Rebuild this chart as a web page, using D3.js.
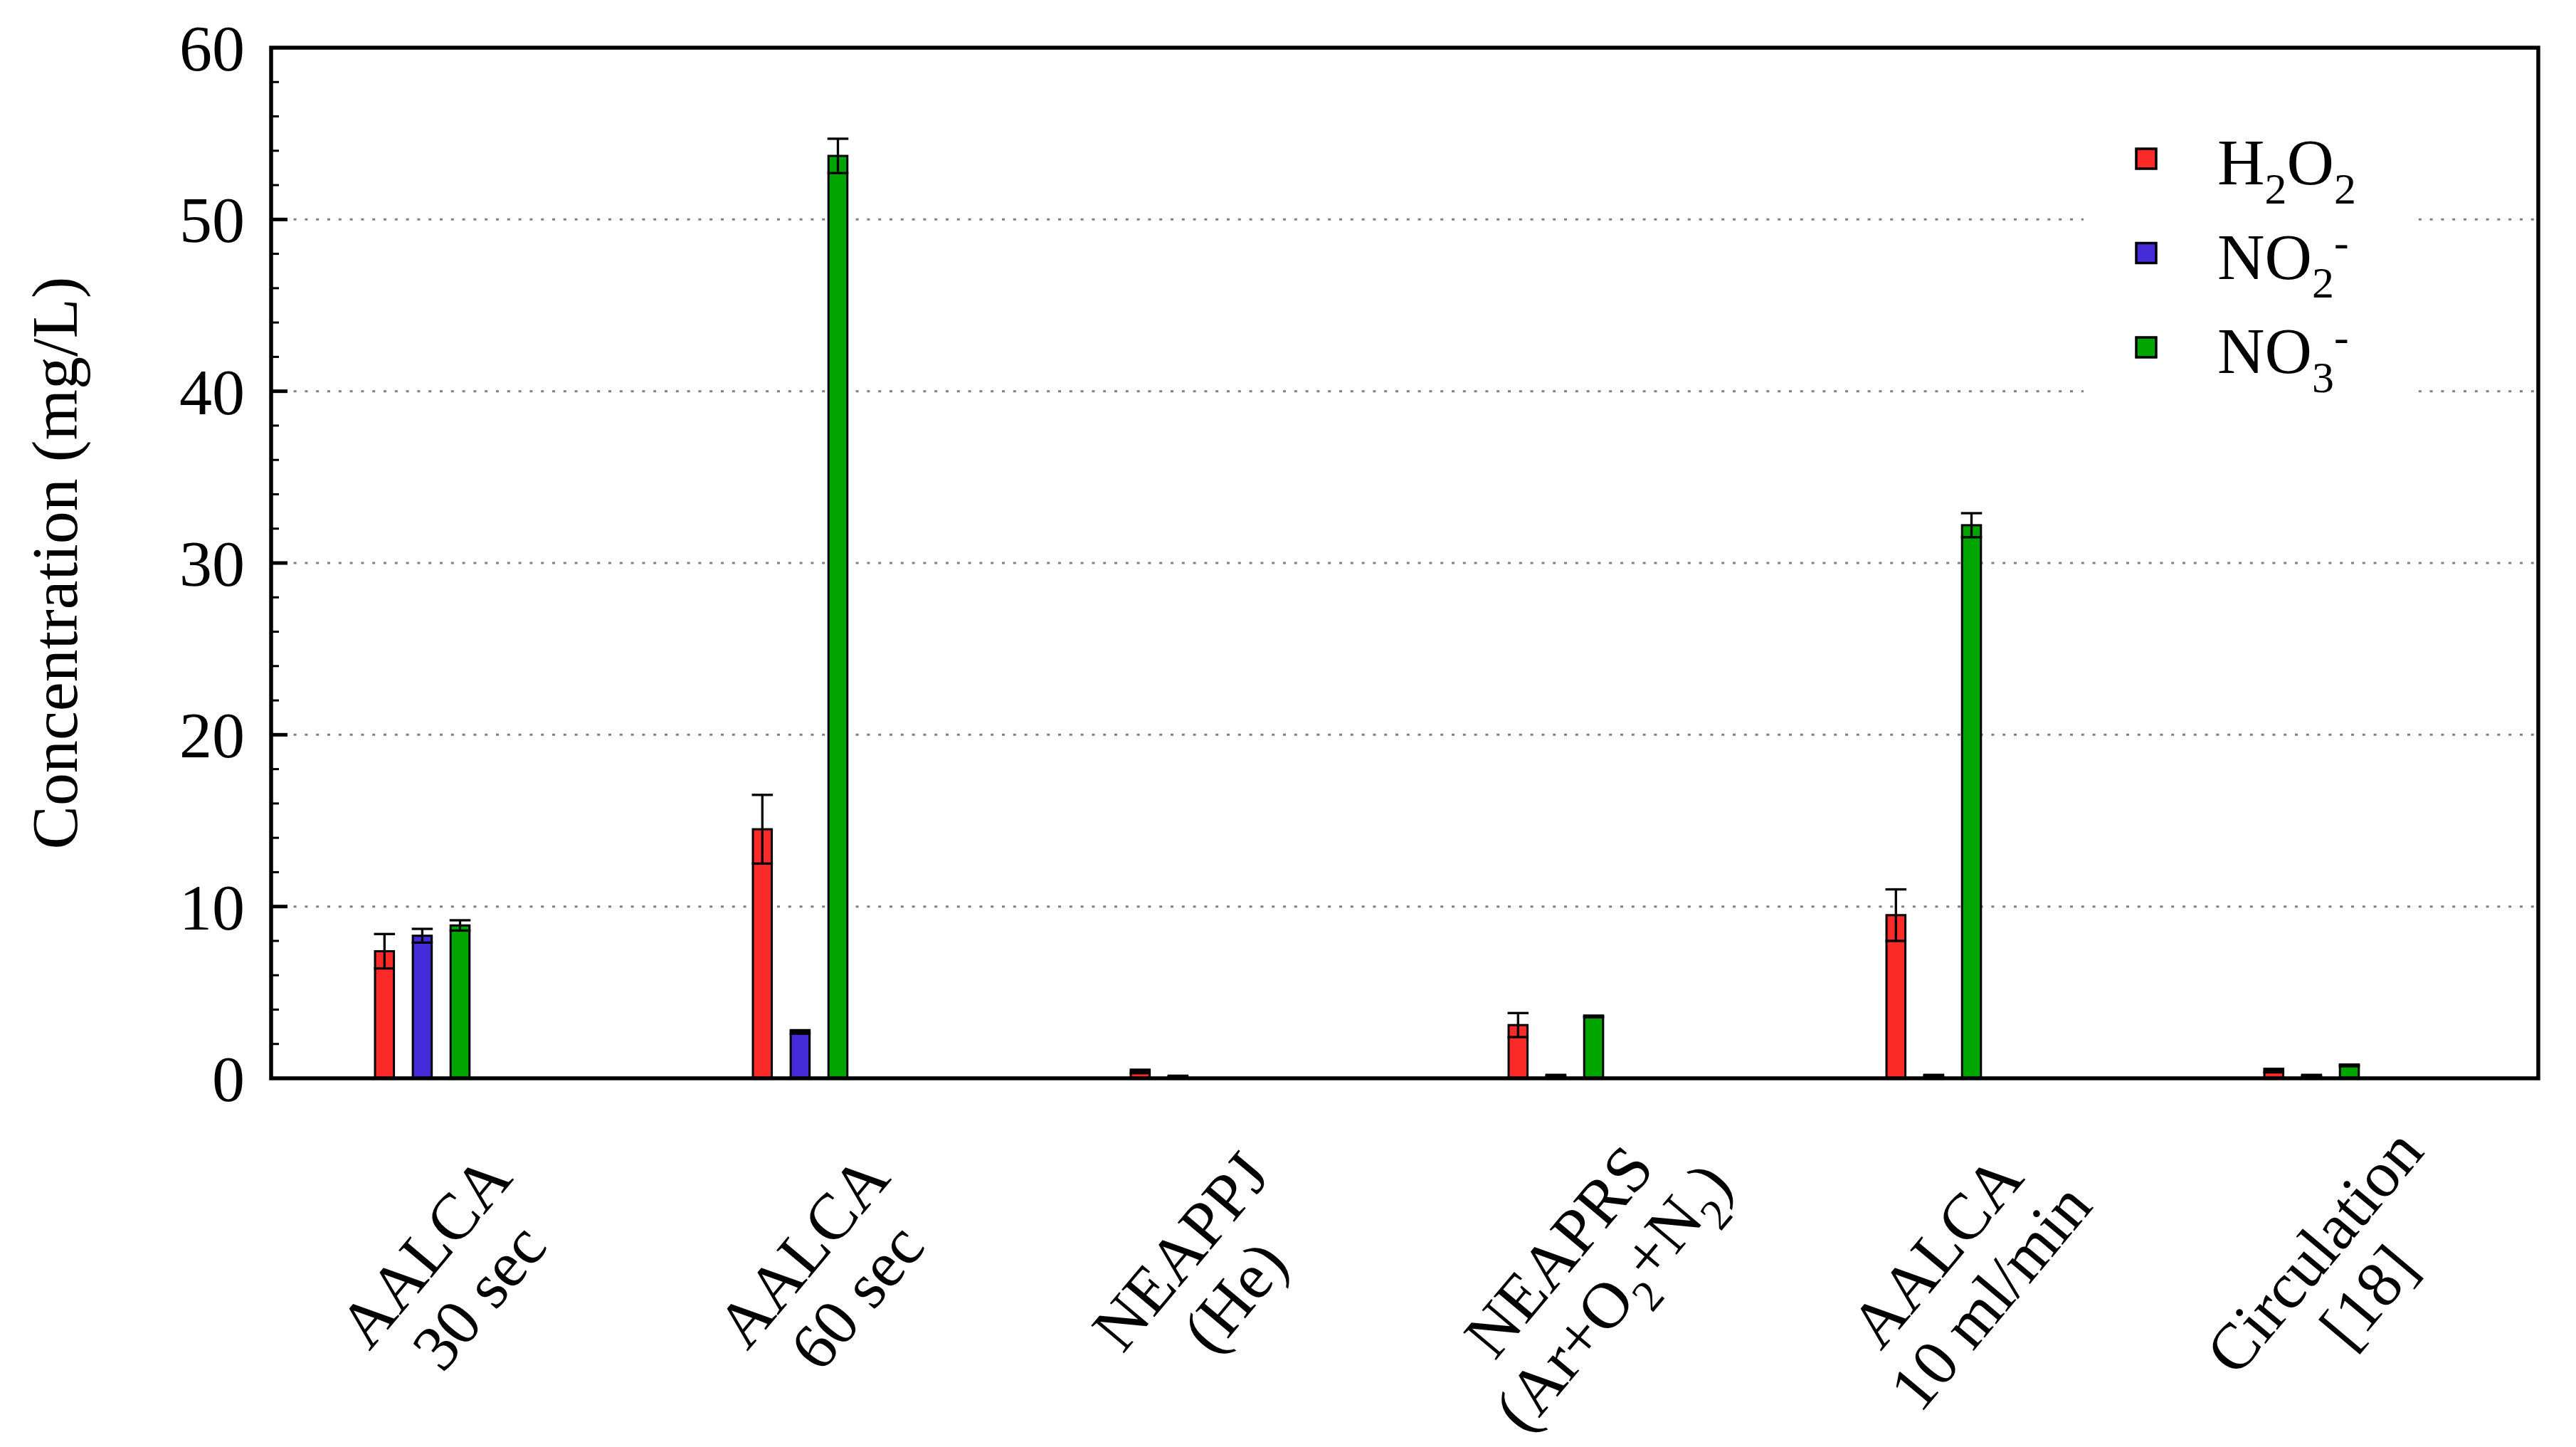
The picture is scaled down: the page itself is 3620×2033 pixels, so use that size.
<!DOCTYPE html>
<html><head><meta charset="utf-8">
<script src="https://cdn.jsdelivr.net/npm/d3@7"></script>
<style>html,body{margin:0;padding:0;background:#fff;} svg{display:block;}</style>
</head><body><svg id="chart" width="3620" height="2033"></svg>
<script>
// ---- data ----
const categories = ["AALCA\n30 sec", "AALCA\n60 sec", "NEAPPJ\n(He)", "NEAPRS\n(Ar+O_2+N_2)", "AALCA\n10 ml/min", "Circulation\n[18]"];
const seriesNames = ["H_2O_2", "NO_2^-", "NO_3^-"];
const seriesColors = ["#fa2a28", "#452cd8", "#00a500"];
const h2o2 = [7.4, 14.5, 0.4, 3.1, 9.5, 0.45];
const h2o2Err = [1.0, 2.0, 0.1, 0.7, 1.5, 0.1];
const no2 = [8.3, 2.7, 0.1, 0.15, 0.15, 0.15];
const no2Err = [0.4, 0.1, 0.05, 0.05, 0.05, 0.05];
const no3 = [8.9, 53.7, null, 3.6, 32.2, 0.75];
const no3Err = [0.3, 1.0, 0, 0.05, 0.7, 0.05];
const yTickValues = [0, 10, 20, 30, 40, 50, 60];
const gridValues = [10, 20, 30, 40, 50];
const yLabel = "Concentration (mg/L)";

const series = [
  {name: seriesNames[0], color: seriesColors[0], values: h2o2, errs: h2o2Err},
  {name: seriesNames[1], color: seriesColors[1], values: no2, errs: no2Err},
  {name: seriesNames[2], color: seriesColors[2], values: no3, errs: no3Err}
];

// ---- layout ----
const L = 381, R = 3567, T = 67, B = 1515;
const FONT = "'Liberation Serif','Times New Roman',serif";
const svg = d3.select("#chart");
const x = d3.scaleLinear().domain([0.6, 6.6]).range([L, R]);
const y = d3.scaleLinear().domain([0, 60]).range([B, T]);
const offsets = [-0.1, 0, 0.1];
const barW = 0.05;

function richText(textEl, lines, size, subSize, lineH) {
  let cur = 0;
  lines.forEach((str, k) => {
    const parts = []; let buf = ""; let i = 0;
    while (i < str.length) {
      const c = str[i];
      if (c === "_" || c === "^") {
        if (buf) { parts.push({t: buf, k: 0}); buf = ""; }
        parts.push({t: str[i + 1], k: c === "_" ? 1 : -1}); i += 2;
      } else { buf += c; i++; }
    }
    if (buf) parts.push({t: buf, k: 0});
    parts.forEach((p, j) => {
      const target = k * lineH + (p.k === 1 ? size * 0.29 : p.k === -1 ? -size * 0.33 : 0);
      const ts = textEl.append("tspan").attr("dy", target - cur)
        .attr("font-size", p.k ? subSize : size).text(p.t);
      if (j === 0) ts.attr("x", 0);
      cur = target;
    });
  });
}

// grid
svg.append("g").selectAll("line").data(gridValues).join("line")
  .attr("x1", L).attr("x2", R).attr("y1", d => y(d)).attr("y2", d => y(d))
  .attr("stroke", "#808080").attr("stroke-width", 3).attr("stroke-dasharray", "4 11.8");

// legend background
svg.append("rect").attr("x", 2928).attr("y", 140).attr("width", 469).attr("height", 440).attr("fill", "#fff");

// bars
series.forEach((s, si) => {
  const g = svg.append("g");
  const data = s.values.map((v, i) => ({v, e: s.errs[i], i})).filter(d => d.v !== null);
  g.selectAll("rect").data(data).join("rect")
    .attr("x", d => x(d.i + 1 + offsets[si] - barW / 2))
    .attr("width", x(barW) - x(0))
    .attr("y", d => y(d.v))
    .attr("height", d => y(0) - y(d.v))
    .attr("fill", s.color).attr("stroke", "#000").attr("stroke-width", 3);
  const eb = data.filter(d => d.e > 0);
  g.selectAll("line.v").data(eb).join("line").attr("class", "v")
    .attr("x1", d => x(d.i + 1 + offsets[si])).attr("x2", d => x(d.i + 1 + offsets[si]))
    .attr("y1", d => y(d.v - d.e)).attr("y2", d => y(d.v + d.e))
    .attr("stroke", "#000").attr("stroke-width", 3.3);
  ["lo", "hi"].forEach(which => {
    g.selectAll("line." + which).data(eb).join("line").attr("class", which)
      .attr("x1", d => x(d.i + 1 + offsets[si] - barW / 2) - 1.5)
      .attr("x2", d => x(d.i + 1 + offsets[si] + barW / 2) + 1.5)
      .attr("y1", d => y(which === "hi" ? d.v + d.e : d.v - d.e))
      .attr("y2", d => y(which === "hi" ? d.v + d.e : d.v - d.e))
      .attr("stroke", "#000").attr("stroke-width", 3.3);
  });
});

// frame
svg.append("rect").attr("x", L).attr("y", T).attr("width", R - L).attr("height", B - T)
  .attr("fill", "none").attr("stroke", "#000").attr("stroke-width", 5.5);

// y ticks (inward)
const minor = y.ticks(30).filter(v => v % 10 !== 0);
svg.append("g").selectAll("line").data(minor).join("line")
  .attr("x1", L).attr("x2", L + 11).attr("y1", d => y(d)).attr("y2", d => y(d))
  .attr("stroke", "#000").attr("stroke-width", 3);
svg.append("g").selectAll("line").data(yTickValues.filter(v => v > 0 && v < 60)).join("line")
  .attr("x1", L).attr("x2", L + 23).attr("y1", d => y(d)).attr("y2", d => y(d))
  .attr("stroke", "#000").attr("stroke-width", 5);
svg.append("g").selectAll("text").data(yTickValues).join("text")
  .attr("x", 344).attr("y", d => y(d) + 32)
  .attr("text-anchor", "end").attr("font-family", FONT).attr("font-size", 92)
  .text(d => d);

// y label
svg.append("text").attr("transform", `translate(108,${(T + B) / 2}) rotate(-90)`)
  .attr("text-anchor", "middle").attr("font-family", FONT).attr("font-size", 92)
  .text(yLabel);

// x labels
categories.forEach((c, i) => {
  const t = svg.append("text")
    .attr("transform", `translate(${x(i + 1) + 27.5},1778) rotate(-50)`)
    .attr("text-anchor", "middle").attr("font-family", FONT);
  richText(t, c.split("\n"), 92, 62, 99);
});

// legend
series.forEach((s, i) => {
  const cy = 223 + i * 132.5;
  svg.append("rect").attr("x", 3002).attr("y", cy - 14).attr("width", 28).attr("height", 28)
    .attr("fill", s.color).attr("stroke", "#000").attr("stroke-width", 3.5);
  const t = svg.append("text").attr("transform", `translate(3116,${cy + 36})`)
    .attr("font-family", FONT);
  richText(t, [s.name], 92, 62, 0);
});
</script>
</body></html>
